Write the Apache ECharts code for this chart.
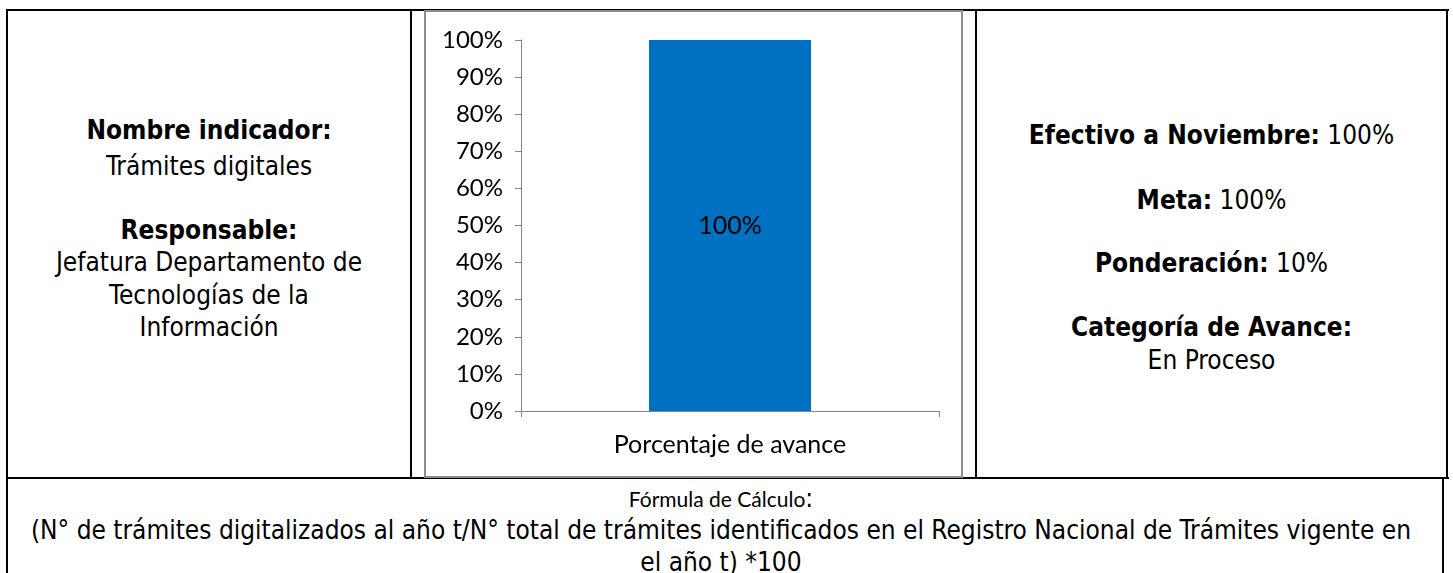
<!DOCTYPE html>
<html>
<head>
<meta charset="utf-8">
<script src="https://cdn.jsdelivr.net/npm/echarts@6/dist/echarts.min.js"></script>
<style>
  html, body { margin: 0; padding: 0; background: #fff; }
  body { width: 1453px; height: 573px; position: relative; overflow: hidden; }
  .ln { position: absolute; background: #000; }
  .txt {
    position: absolute; text-align: center; white-space: nowrap;
    font-family: "DejaVu Sans Condensed", "DejaVu Sans", sans-serif;
    font-stretch: condensed; font-size: 26px; color: #000;
    height: 32px; line-height: 32px;
  }
  .txt b { font-weight: bold; }
  #chartBox { position: absolute; left: 424px; top: 10px; width: 535px; height: 464px; border: 2px solid #8c8c8c; }
  #chart { position: absolute; left: 424px; top: 10px; width: 539px; height: 468px; }
</style>
</head>
<body>
<!-- bordes de la tabla -->
<div class="ln" style="left:7px; top:9px; width:1442px; height:2px;"></div>
<div class="ln" style="left:7px; top:477px; width:1442px; height:2px;"></div>
<div class="ln" style="left:6px; top:9px; width:2px; height:570px;"></div>
<div class="ln" style="left:410px; top:9px; width:2px; height:469px;"></div>
<div class="ln" style="left:975px; top:9px; width:2px; height:469px;"></div>
<div class="ln" style="left:1446px; top:9px; width:2px; height:469px;"></div>
<div class="ln" style="left:1442px; top:477px; width:2px; height:100px;"></div>

<!-- celda izquierda -->
<div class="txt" style="left:8px; width:402px; top:114px;"><b>Nombre indicador:</b></div>
<div class="txt" style="left:8px; width:402px; top:150px;">Trámites digitales</div>
<div class="txt" style="left:8px; width:402px; top:214px;"><b>Responsable:</b></div>
<div class="txt" style="left:8px; width:402px; top:246px;">Jefatura Departamento de</div>
<div class="txt" style="left:8px; width:402px; top:279px;">Tecnologías de la</div>
<div class="txt" style="left:8px; width:402px; top:311px;">Información</div>

<!-- celda derecha -->
<div class="txt" style="left:977px; width:469px; top:119px;"><b>Efectivo a Noviembre:</b> 100%</div>
<div class="txt" style="left:977px; width:469px; top:184px;"><b>Meta:</b> 100%</div>
<div class="txt" style="left:977px; width:469px; top:247px;"><b>Ponderación:</b> 10%</div>
<div class="txt" style="left:977px; width:469px; top:311px;"><b>Categoría de Avance:</b></div>
<div class="txt" style="left:977px; width:469px; top:344px;">En Proceso</div>

<!-- fila inferior -->
<div class="txt" style="left:8px; width:1426px; top:482px;"><span style="font-family:Lato, sans-serif; font-stretch:normal; font-size:21px;">Fórmula de Cálculo</span>:</div>
<div class="txt" style="left:8px; width:1426px; top:514px;">(N° de trámites digitalizados al año t/N° total de trámites identificados en el Registro Nacional de Trámites vigente en</div>
<div class="txt" style="left:8px; width:1426px; top:546px;">el año t) *100</div>

<div id="chartBox"></div>
<div id="chart"></div>

<script>
  // datos del gráfico
  const categorias = ['Porcentaje de avance'];
  const avance = [100];
  const etiquetas = ['100%'];

  const chart = echarts.init(document.getElementById('chart'), null, { renderer: 'canvas' });

  const option = {
    animation: false,
    grid: { left: 97, right: 24, top: 30, bottom: 67 },
    xAxis: {
      type: 'category',
      data: categorias,
      boundaryGap: true,
      axisLine: { show: true, lineStyle: { color: '#868686', width: 1 } },
      axisTick: { show: true, length: 6, lineStyle: { color: '#868686' } },
      axisLabel: { color: '#000', fontFamily: 'Lato', fontSize: 25, margin: 21 },
    },
    yAxis: {
      type: 'value',
      min: 0,
      max: 100,
      interval: 10,
      axisLine: { show: true, lineStyle: { color: '#868686', width: 1 } },
      axisTick: { show: true, length: 6, lineStyle: { color: '#868686' } },
      splitLine: { show: false },
      axisLabel: { color: '#000', fontFamily: 'Lato', fontSize: 24, margin: 18, formatter: '{value}%' },
    },
    series: [
      {
        type: 'bar',
        data: avance,
        barWidth: 162,
        itemStyle: { color: '#0070C0' },
        label: {
          show: true,
          position: 'inside',
          color: '#000',
          fontFamily: 'Lato',
          fontSize: 25,
          formatter: (p) => etiquetas[p.dataIndex],
        },
      },
    ],
  };

  chart.setOption(option);
</script>
</body>
</html>
